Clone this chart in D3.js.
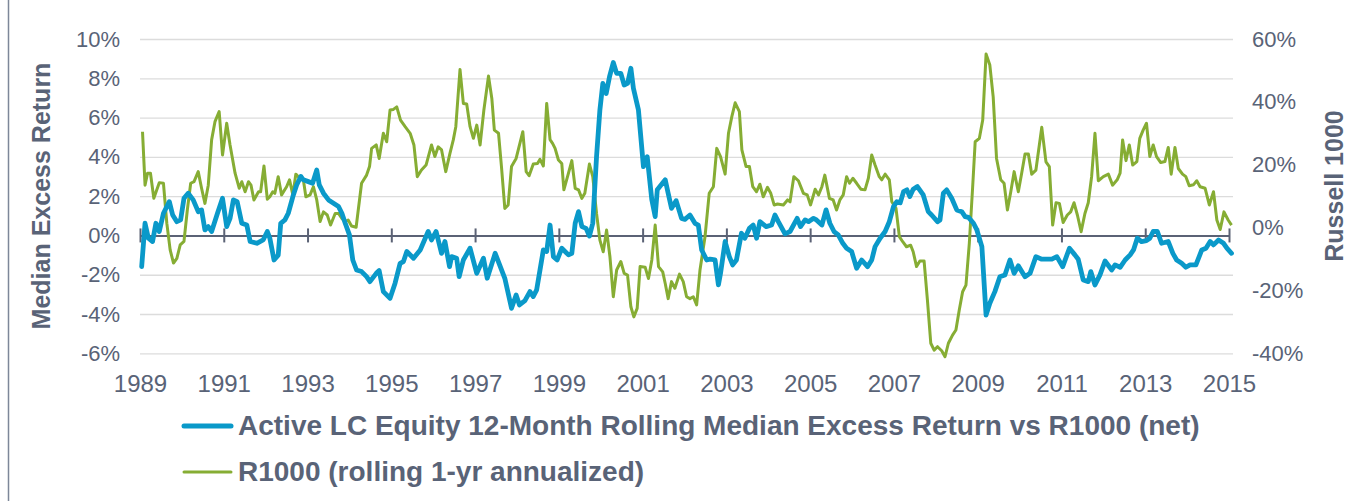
<!DOCTYPE html>
<html>
<head>
<meta charset="utf-8">
<script src="https://cdn.jsdelivr.net/npm/d3@7"></script>
<style>
  html, body { margin: 0; padding: 0; background: #fff; }
  text { font-family: "Liberation Sans", Arial, sans-serif; fill: #596377; }
</style>
</head>
<body>
<div id="canvas"></div>
<script>
(function(d3){

  // years on the x axis
  var yearTicks = [1989, 1991, 1993, 1995, 1997, 1999, 2001, 2003, 2005, 2007, 2009, 2011, 2013, 2015];
  var leftTicks = [-6, -4, -2, 0, 2, 4, 6, 8, 10];
  var rightTicks = [-40, -20, 0, 20, 40, 60];

  // Active LC equity median excess return (%), left axis
  var excessYears = [1989.04,1989.12,1989.2,1989.3,1989.38,1989.46,1989.56,1989.7,1989.78,1989.88,1989.97,1990.05,1990.15,1990.27,1990.39,1990.47,1990.55,1990.63,1990.71,1990.85,1990.97,1991.07,1991.15,1991.23,1991.32,1991.43,1991.55,1991.63,1991.79,1991.94,1992.04,1992.1,1992.2,1992.3,1992.36,1992.46,1992.54,1992.65,1992.74,1992.84,1992.9,1993.02,1993.12,1993.22,1993.28,1993.38,1993.5,1993.62,1993.74,1993.82,1993.9,1994.0,1994.08,1994.17,1994.29,1994.41,1994.49,1994.64,1994.71,1994.81,1994.97,1995.09,1995.21,1995.29,1995.37,1995.53,1995.69,1995.88,1995.96,1996.07,1996.2,1996.28,1996.39,1996.44,1996.56,1996.62,1996.72,1996.88,1997.04,1997.2,1997.29,1997.48,1997.71,1997.87,1997.98,1998.06,1998.19,1998.31,1998.39,1998.47,1998.55,1998.63,1998.71,1998.79,1998.87,1998.96,1999.07,1999.23,1999.31,1999.39,1999.47,1999.55,1999.65,1999.73,1999.81,1999.9,1999.98,2000.05,2000.13,2000.21,2000.3,2000.38,2000.48,2000.56,2000.64,2000.72,2000.78,2000.9,2001.02,2001.11,2001.22,2001.3,2001.35,2001.54,2001.61,2001.69,2001.8,2001.93,2002.01,2002.13,2002.25,2002.33,2002.41,2002.53,2002.61,2002.73,2002.81,2002.86,2002.97,2003.07,2003.15,2003.24,2003.36,2003.44,2003.55,2003.64,2003.72,2003.8,2003.95,2004.08,2004.16,2004.24,2004.4,2004.52,2004.69,2004.77,2004.88,2004.96,2005.08,2005.15,2005.28,2005.38,2005.47,2005.57,2005.67,2005.78,2005.87,2005.99,2006.11,2006.23,2006.37,2006.47,2006.55,2006.67,2006.79,2006.89,2006.99,2007.07,2007.15,2007.23,2007.31,2007.38,2007.46,2007.56,2007.7,2007.82,2007.9,2008.04,2008.1,2008.18,2008.26,2008.38,2008.5,2008.62,2008.7,2008.78,2008.9,2008.98,2009.1,2009.2,2009.29,2009.41,2009.53,2009.65,2009.77,2009.87,2009.97,2010.13,2010.25,2010.39,2010.53,2010.77,2010.89,2011.03,2011.19,2011.32,2011.4,2011.52,2011.64,2011.7,2011.8,2011.92,2012.04,2012.2,2012.28,2012.4,2012.52,2012.64,2012.72,2012.81,2012.91,2013.03,2013.11,2013.19,2013.29,2013.39,2013.55,2013.66,2013.75,2013.87,2013.97,2014.07,2014.21,2014.35,2014.45,2014.55,2014.63,2014.75,2014.87,2014.95,2015.06];
  var excessValues = [-1.59,0.62,-0.14,-0.31,0.62,0.2,1.13,1.72,1.04,0.7,0.79,1.89,2.15,1.81,1.21,1.3,0.28,0.45,0.2,1.13,1.89,0.45,0.87,1.81,1.72,0.62,0.53,-0.31,-0.4,-0.23,0.2,-0.14,-1.25,-1.0,0.62,0.79,1.13,1.98,2.57,3.0,2.83,2.74,2.66,3.33,2.57,2.15,1.81,1.64,1.47,1.13,0.62,0.03,-1.25,-1.76,-1.84,-2.1,-2.35,-1.93,-1.79,-2.86,-3.2,-2.43,-1.42,-1.33,-0.82,-1.16,-0.74,0.2,-0.23,0.2,-0.91,-0.31,-1.59,-1.08,-1.16,-2.1,-1.25,-0.65,-1.93,-1.16,-2.18,-0.91,-2.18,-3.71,-3.03,-3.54,-3.32,-2.86,-3.11,-2.77,-1.76,-0.74,-0.82,0.53,-1.08,-1.25,-0.65,-0.99,-0.91,0.62,1.21,0.45,0.36,-0.03,0.62,4.01,6.39,7.74,7.23,8.08,8.8,8.25,8.25,7.66,7.74,8.51,7.49,6.39,3.5,4.01,1.81,0.96,2.32,2.83,2.15,1.38,1.77,0.87,0.82,1.04,0.62,0.53,-0.74,-1.25,-1.21,-1.25,-2.52,-1.93,-0.31,-1.08,-1.5,-1.25,0.11,-0.14,0.36,0.53,-0.14,0.7,0.45,0.53,1.04,0.7,0.08,0.2,0.87,0.45,0.79,0.7,0.87,0.79,0.53,1.3,0.62,0.2,0.03,-0.4,-0.65,-0.82,-1.67,-1.25,-1.59,-1.25,-0.57,-0.14,0.2,0.7,1.47,1.72,1.66,2.23,2.32,1.98,2.35,2.49,2.06,1.21,1.04,0.7,0.79,2.15,2.32,1.89,1.3,1.21,0.96,0.92,0.62,0.28,-0.57,-4.05,-3.45,-2.86,-2.1,-2.01,-1.25,-1.93,-1.55,-2.1,-1.93,-1.08,-1.21,-1.21,-1.08,-1.59,-0.65,-0.99,-1.21,-2.27,-2.35,-1.84,-2.52,-2.01,-1.3,-1.76,-1.5,-1.62,-1.25,-0.99,-0.74,-0.14,-0.31,-0.26,-0.14,0.2,0.2,-0.4,-0.31,-0.91,-1.25,-1.42,-1.62,-1.5,-1.5,-0.74,-0.65,-0.31,-0.48,-0.23,-0.4,-0.65,-0.91];

  // Russell 1000 rolling 1-yr return (%), right axis
  var r1000Years = [1989.06,1989.12,1989.18,1989.25,1989.33,1989.46,1989.56,1989.64,1989.72,1989.8,1989.88,1989.96,1990.05,1990.13,1990.21,1990.29,1990.39,1990.47,1990.55,1990.63,1990.71,1990.79,1990.89,1990.97,1991.07,1991.15,1991.27,1991.37,1991.43,1991.51,1991.59,1991.65,1991.72,1991.83,1991.88,1991.96,1992.04,1992.1,1992.17,1992.22,1992.3,1992.38,1992.5,1992.57,1992.65,1992.72,1992.82,1992.9,1992.96,1993.06,1993.14,1993.22,1993.3,1993.38,1993.47,1993.55,1993.66,1993.74,1993.82,1993.9,1993.97,1994.05,1994.16,1994.29,1994.41,1994.48,1994.53,1994.64,1994.71,1994.81,1994.89,1994.97,1995.05,1995.13,1995.22,1995.33,1995.45,1995.54,1995.62,1995.72,1995.83,1995.96,1996.04,1996.12,1996.2,1996.3,1996.4,1996.48,1996.54,1996.64,1996.72,1996.8,1996.88,1996.96,1997.04,1997.12,1997.21,1997.32,1997.4,1997.46,1997.56,1997.63,1997.71,1997.79,1997.87,1997.98,1998.14,1998.22,1998.29,1998.39,1998.49,1998.55,1998.63,1998.71,1998.79,1998.85,1998.91,1998.99,1999.07,1999.12,1999.23,1999.31,1999.39,1999.47,1999.55,1999.62,1999.73,1999.81,1999.9,1999.98,2000.06,2000.14,2000.22,2000.3,2000.38,2000.48,2000.56,2000.64,2000.72,2000.79,2000.87,2000.94,2001.06,2001.14,2001.22,2001.3,2001.38,2001.48,2001.54,2001.61,2001.69,2001.77,2001.88,2001.97,2002.05,2002.13,2002.21,2002.29,2002.37,2002.49,2002.59,2002.69,2002.77,2002.86,2002.97,2003.05,2003.13,2003.21,2003.31,2003.37,2003.47,2003.55,2003.63,2003.72,2003.8,2003.88,2003.98,2004.06,2004.14,2004.22,2004.36,2004.46,2004.52,2004.61,2004.72,2004.84,2004.93,2005.01,2005.12,2005.2,2005.28,2005.35,2005.46,2005.55,2005.63,2005.71,2005.79,2005.87,2005.94,2006.02,2006.11,2006.21,2006.31,2006.39,2006.47,2006.55,2006.65,2006.71,2006.79,2006.89,2006.95,2007.05,2007.13,2007.21,2007.3,2007.4,2007.46,2007.54,2007.62,2007.72,2007.8,2007.88,2007.96,2008.04,2008.14,2008.22,2008.3,2008.4,2008.48,2008.56,2008.64,2008.72,2008.8,2008.88,2008.94,2009.04,2009.12,2009.2,2009.29,2009.37,2009.45,2009.55,2009.63,2009.71,2009.79,2009.87,2009.97,2010.05,2010.13,2010.21,2010.29,2010.39,2010.53,2010.63,2010.71,2010.79,2010.87,2010.95,2011.04,2011.14,2011.22,2011.3,2011.38,2011.47,2011.56,2011.64,2011.72,2011.8,2011.88,2012.0,2012.12,2012.22,2012.33,2012.4,2012.46,2012.54,2012.62,2012.7,2012.8,2012.87,2012.95,2013.03,2013.11,2013.19,2013.27,2013.37,2013.47,2013.55,2013.62,2013.71,2013.79,2013.89,2013.97,2014.05,2014.15,2014.23,2014.31,2014.43,2014.53,2014.63,2014.71,2014.79,2014.88,2014.98,2015.06];
  var r1000Values = [30.5,13.5,17.3,17.3,9.3,14.3,14.1,1.4,-7.1,-11.3,-9.8,-5.5,-4.4,5.6,14.1,14.6,17.8,12.5,7.7,13.5,27.9,33.7,36.9,23.1,33.2,26.3,17.3,12.5,14.6,11.4,14.6,13.5,8.8,11.4,11.4,19.6,9.0,9.8,11.4,10.9,16.2,10.4,13.0,15.2,10.4,17.0,15.6,15.2,9.8,10.4,13.0,8.8,1.9,5.0,4.0,0.8,4.5,4.5,2.9,1.9,2.4,0.5,0.1,14.1,16.7,19.4,25.2,26.3,22.0,30.0,27.3,37.4,37.6,38.4,34.2,32.1,30.0,26.3,16.2,18.3,19.9,26.3,22.6,25.7,24.7,17.8,23.6,27.9,32.1,50.3,39.5,39.3,32.1,28.4,32.6,26.3,37.4,48.2,41.1,31.0,30.0,19.4,6.1,7.2,19.4,22.0,30.5,17.8,16.5,20.2,20.4,21.7,19.6,39.5,28.0,26.8,25.2,21.5,20.4,12.0,17.3,21.3,12.5,12.0,9.3,10.9,20.2,16.2,4.5,-4.0,-7.7,-0.8,-9.3,-22.0,-13.5,-10.8,-14.6,-15.1,-25.2,-28.4,-25.7,-12.4,-12.6,-16.2,-10.3,0.8,-12.4,-14.1,-17.8,-22.6,-17.2,-19.3,-14.8,-17.2,-22.0,-22.6,-22.0,-24.6,-13.5,-2.9,10.9,13.0,25.2,22.6,17.0,30.0,35.3,39.7,36.9,24.7,19.4,19.4,13.0,11.4,13.8,9.8,12.8,10.9,7.2,7.5,7.2,8.8,8.2,16.2,14.9,10.9,10.4,7.2,12.2,10.4,13.0,16.7,9.3,8.8,5.6,8.8,10.4,16.2,14.1,15.7,14.1,12.2,12.0,15.7,23.1,19.9,16.2,15.2,17.0,15.2,8.2,6.1,-2.9,-4.5,-6.1,-5.6,-7.7,-12.4,-10.6,-10.6,-23.1,-36.8,-39.0,-37.9,-39.2,-41.1,-36.8,-34.2,-32.6,-26.2,-20.4,-18.3,-5.0,13.0,27.3,28.4,34.2,55.2,51.7,41.6,22.0,15.2,14.1,5.6,11.4,17.8,11.4,17.3,23.4,23.4,17.0,18.3,31.9,20.9,19.4,0.8,7.9,7.7,1.6,4.0,5.0,7.9,4.0,-1.3,4.5,7.9,16.2,30.0,14.9,16.2,17.0,13.5,15.2,17.3,27.9,21.3,26.3,19.9,21.0,28.4,31.0,33.2,22.6,26.3,22.6,20.7,21.0,25.5,17.0,25.5,18.8,17.0,16.2,13.3,13.6,14.9,13.0,12.5,7.2,11.4,2.4,-0.6,5.0,2.4,0.8];

  var legendLabels = ['Active LC Equity 12-Month Rolling Median Excess Return vs R1000 (net)', 'R1000 (rolling 1-yr annualized)'];

  var canvas_d = {width: 1364, height: 501},
      plot = {left: 140, right: 1229, top: 39, bottom: 353.3, gridEnd: 1233},
      blue = '#0a99c9',
      green = '#86ad34',
      ink = '#596377';

  var excess = d3.zip(excessYears, excessValues),
      r1000 = d3.zip(r1000Years, r1000Values);

  var x = d3.scaleLinear().domain([1989, 2015]).range([plot.left, plot.right]),
      yLeft = d3.scaleLinear().domain([-6, 10]).range([plot.bottom, plot.top]),
      yRight = d3.scaleLinear().domain([-40, 60]).range([plot.bottom, plot.top]);

  var svg = d3.select('#canvas').append('svg')
      .attr('width', canvas_d.width)
      .attr('height', canvas_d.height);

  // frame line on the left
  svg.append('line')
      .attr('x1', 8.5).attr('x2', 8.5)
      .attr('y1', 0).attr('y2', canvas_d.height)
      .attr('stroke', '#7d8799').attr('stroke-width', 1.5);

  /**
   * Gridlines + left axis labels.
   */
  var leftAxis = svg.append('g')
      .attr('transform', 'translate(' + plot.left + ',0)')
      .call(d3.axisLeft(yLeft).tickValues(leftTicks)
        .tickSize(-(plot.gridEnd - plot.left)).tickPadding(20)
        .tickFormat(function(d){ return d + '%'; }));
  leftAxis.select('.domain').remove();
  leftAxis.selectAll('line')
      .attr('stroke', '#dcdcdc').attr('stroke-width', 1.3)
      .filter(function(d){ return d === 0; }).remove();
  leftAxis.selectAll('text')
      .style('font-size', '22px').attr('fill', ink);

  var rightAxis = svg.append('g')
      .attr('transform', 'translate(' + plot.gridEnd + ',0)')
      .call(d3.axisRight(yRight).tickValues(rightTicks)
        .tickSize(0).tickPadding(19)
        .tickFormat(function(d){ return d + '%'; }));
  rightAxis.select('.domain').remove();
  rightAxis.selectAll('text')
      .style('font-size', '22px').attr('fill', ink);

  /**
   * Zero line with crossing ticks, year labels at the bottom.
   */
  var zeroAxis = svg.append('g')
      .attr('transform', 'translate(0,' + yLeft(0) + ')')
      .call(d3.axisBottom(x).tickValues(yearTicks).tickSize(7).tickSizeOuter(0).tickFormat(''));
  zeroAxis.select('.domain')
      .attr('stroke', '#5b6275').attr('stroke-width', 2);
  zeroAxis.selectAll('.tick line')
      .attr('y1', -7).attr('y2', 7)
      .attr('stroke', '#5b6275').attr('stroke-width', 2);

  var yearAxis = svg.append('g')
      .attr('transform', 'translate(0,' + plot.bottom + ')')
      .call(d3.axisBottom(x).tickValues(yearTicks).tickSize(0).tickPadding(22)
        .tickFormat(d3.format('d')));
  yearAxis.select('.domain').remove();
  yearAxis.selectAll('text')
      .style('font-size', '24px').attr('fill', ink);

  /**
   * Lines.
   */
  svg.append('path')
      .datum(r1000)
      .attr('fill', 'none')
      .attr('stroke', green)
      .attr('stroke-width', 3)
      .attr('stroke-linejoin', 'round')
      .attr('d', d3.line().x(function(d){ return x(d[0]); }).y(function(d){ return yRight(d[1]); }));

  svg.append('path')
      .datum(excess)
      .attr('fill', 'none')
      .attr('stroke', blue)
      .attr('stroke-width', 4.8)
      .attr('stroke-linejoin', 'round')
      .attr('stroke-linecap', 'round')
      .attr('d', d3.line().x(function(d){ return x(d[0]); }).y(function(d){ return yLeft(d[1]); }));

  /**
   * Axis titles.
   */
  svg.append('text')
      .attr('transform', 'translate(50,196) rotate(-90)')
      .attr('text-anchor', 'middle')
      .style('font-size', '25px').style('font-weight', 'bold')
      .text('Median Excess Return');

  svg.append('text')
      .attr('transform', 'translate(1343,186) rotate(-90)')
      .attr('text-anchor', 'middle')
      .style('font-size', '25px').style('font-weight', 'bold')
      .text('Russell 1000');

  /**
   * Legend.
   */
  var legend = svg.selectAll('.legend')
      .data(legendLabels)
    .enter().append('g')
      .attr('class', 'legend')
      .attr('transform', function(d, i){ return 'translate(0,' + (426 + 46 * i) + ')'; });

  legend.append('line')
      .attr('x1', 184).attr('x2', 231)
      .attr('stroke', function(d, i){ return i ? green : blue; })
      .attr('stroke-width', function(d, i){ return i ? 3 : 5; })
      .attr('stroke-linecap', 'round');

  legend.append('text')
      .attr('x', 238).attr('y', 9)
      .style('font-size', '28px').style('font-weight', 'bold')
      .text(function(d){ return d; });

})(d3);
</script>
</body>
</html>
